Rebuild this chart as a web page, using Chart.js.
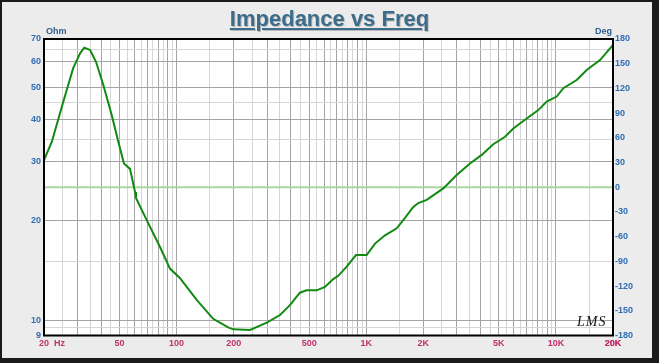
<!DOCTYPE html>
<html>
<head>
<meta charset="utf-8">
<script src="https://cdn.jsdelivr.net/npm/chart.js@4/dist/chart.umd.min.js"></script>
<style>
  html, body { margin: 0; padding: 0; }
  body { width: 659px; height: 363px; background: #1b1b1b; position: relative; overflow: hidden; font-family: "Liberation Sans", Arial, sans-serif; }
  #frame { position: absolute; left: 2px; top: 2px; width: 650px; height: 356px; background: #ececec; }
  #chart { position: absolute; left: 0; top: 0; }
  .lbl { position: absolute; font-weight: bold; white-space: nowrap; }
  #title { left: 0; width: 659px; top: 8px; text-align: center; font-size: 22px; line-height: 22px; color: #3d6c8b; text-decoration: underline; text-shadow: 1px 1px 0 rgba(0, 0, 0, 0.22); }
  #ohm { left: 46px; top: 26px; font-size: 9px; color: #2f5f8f; }
  #deg { left: 595px; top: 26px; font-size: 9px; color: #2f5f8f; }
  #hz { left: 54px; top: 338px; font-size: 9px; color: #c2306c; }
  #lms { left: 577px; top: 314px; font-size: 14px; font-style: italic; font-weight: normal; font-family: "Liberation Serif", serif; color: #111; letter-spacing: 1px; }
</style>
</head>
<body>
<div id="frame"></div>
<canvas id="chart" width="659" height="363"></canvas>
<div id="title" class="lbl">Impedance vs Freq</div>
<div id="ohm" class="lbl">Ohm</div>
<div id="deg" class="lbl">Deg</div>
<div id="hz" class="lbl">Hz</div>
<div id="lms" class="lbl">LMS</div>
<script>
// impedance curve (Hz / Ohm)
const freqs = [20, 22, 25.3, 28.5, 31, 32.6, 35, 37.6, 41.1, 45.5, 49.3, 52.8, 56.8, 60.4, 61.1, 69.6, 81.8, 92.3, 104, 128, 156, 187, 199, 244, 299, 351, 396, 447, 485, 548, 606, 670, 712, 789, 883, 1005, 1113, 1256, 1448, 1601, 1771, 1881, 2084, 2549, 2998, 3524, 4062, 4676, 5391, 5962, 7015, 8078, 8946, 10100, 10940, 12870, 14530, 17080, 20000];
const ohms = [30.3, 34.4, 45.4, 57.2, 63.4, 65.9, 64.9, 59.8, 50.9, 41.4, 34.4, 29.6, 28.5, 24.3, 23.3, 20.0, 16.6, 14.3, 13.4, 11.5, 10.1, 9.52, 9.39, 9.35, 9.84, 10.37, 11.1, 12.1, 12.3, 12.3, 12.6, 13.3, 13.6, 14.5, 15.7, 15.7, 17.0, 18.0, 18.9, 20.3, 21.9, 22.5, 23.0, 24.9, 27.3, 29.6, 31.4, 33.8, 35.6, 37.7, 40.4, 42.8, 45.4, 47.0, 49.8, 52.7, 56.5, 60.5, 67.2];

// phase reference line (0 deg)
const phaseFreqs = [20, 20000];
const phaseDeg = [0, 0];

// axis ticks
const xTickLabels = { 20: '20', 50: '50', 100: '100', 200: '200', 500: '500', 1000: '1K', 2000: '2K', 5000: '5K', 10000: '10K', 20000: '20K' };
const ohmGrid = [9, 9.5, 10, 15, 20, 25, 30, 35, 40, 45, 50, 60, 65, 70];
const ohmLabels = [9, 10, 20, 30, 40, 50, 60, 70];
const degTicks = [-180, -150, -120, -90, -60, -30, 0, 30, 60, 90, 120, 150, 180];

// frequency grid: every half step inside each decade
const xGrid = [];
for (let d = 10; d <= 10000; d *= 10) {
    for (let m = 1; m < 10; m += 0.5) {
        const v = Math.round(m * d);
        if (v >= 20 && v <= 20000) xGrid.push(v);
    }
}
xGrid.push(20000);

function isMajor(v) {
    const d = Math.pow(10, Math.floor(Math.log10(v) + 1e-9));
    const m = v / d;
    return Math.abs(m - Math.round(m)) < 1e-6;
}

const plotFrame = {
    id: 'plotFrame',
    beforeDraw(chart) {
        const { ctx, chartArea: a } = chart;
        ctx.save();
        ctx.fillStyle = '#ffffff';
        ctx.fillRect(a.left, a.top, a.right - a.left, a.bottom - a.top);
        ctx.restore();
    },
    afterDraw(chart) {
        const { ctx, chartArea: a } = chart;
        ctx.save();
        ctx.strokeStyle = '#000';
        ctx.lineWidth = 2;
        ctx.strokeRect(a.left, a.top, a.right - a.left, a.bottom - a.top);
        ctx.restore();
    }
};

const tickFont = { family: '"Liberation Sans", Arial, sans-serif', size: 9, weight: 'bold' };

new Chart(document.getElementById('chart'), {
    type: 'scatter',
    data: {
        datasets: [
            {
                label: 'Impedance',
                data: freqs.map((f, i) => ({ x: f, y: ohms[i] })),
                showLine: true,
                borderColor: '#118a11',
                borderWidth: 2,
                pointRadius: 0,
                tension: 0,
                yAxisID: 'y',
                order: 1
            },
            {
                label: 'Phase 0',
                data: phaseFreqs.map((f, i) => ({ x: f, y: phaseDeg[i] })),
                showLine: true,
                borderColor: '#a8d5a0',
                borderWidth: 2,
                pointRadius: 0,
                yAxisID: 'y2',
                order: 2
            }
        ]
    },
    options: {
        responsive: false,
        animation: false,
        layout: { padding: { top: 39, left: 0, right: 0, bottom: 0 } },
        plugins: { legend: { display: false }, tooltip: { enabled: false } },
        scales: {
            x: {
                type: 'logarithmic',
                min: 20,
                max: 20000,
                afterBuildTicks: s => { s.ticks = xGrid.map(v => ({ value: v })); },
                afterFit: s => { s.height = 27.5; },
                border: { display: false },
                grid: {
                    drawTicks: false,
                    color: c => isMajor(c.tick.value) ? '#a4a4a4' : '#d6d6d6',
                    lineWidth: 1
                },
                ticks: {
                    autoSkip: false,
                    maxRotation: 0,
                    padding: 3,
                    color: '#c2306c',
                    font: tickFont,
                    callback: v => xTickLabels[v] || ''
                }
            },
            y: {
                type: 'logarithmic',
                position: 'left',
                min: 9,
                max: 70,
                afterBuildTicks: s => { s.ticks = ohmGrid.map(v => ({ value: v })); },
                afterFit: s => { s.width = 44; },
                border: { display: false },
                grid: {
                    drawTicks: false,
                    color: c => ohmLabels.includes(c.tick.value) ? '#a4a4a4' : '#d6d6d6',
                    lineWidth: 1
                },
                ticks: {
                    autoSkip: false,
                    padding: 3,
                    color: '#2f6db5',
                    font: tickFont,
                    callback: v => ohmLabels.includes(v) ? String(v) : ''
                }
            },
            y2: {
                type: 'linear',
                position: 'right',
                min: -180,
                max: 180,
                afterBuildTicks: s => { s.ticks = degTicks.map(v => ({ value: v })); },
                afterFit: s => { s.width = 46; },
                border: { display: false },
                grid: { drawOnChartArea: false, drawTicks: false },
                ticks: {
                    autoSkip: false,
                    padding: 2,
                    color: '#2f6db5',
                    font: tickFont,
                    callback: v => String(v)
                }
            }
        }
    },
    plugins: [plotFrame]
});
</script>
</body>
</html>
